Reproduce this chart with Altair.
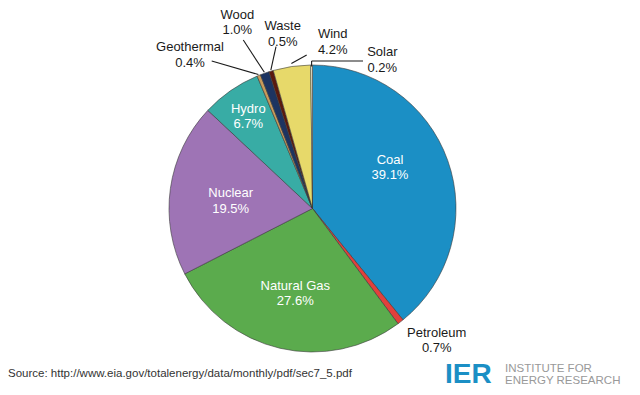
import math
import altair as alt
import pandas as pd

# ---- data ----
sources = ["Coal", "Petroleum", "Natural Gas", "Nuclear", "Hydro",
           "Geothermal", "Wood", "Waste", "Wind", "Solar"]
shares = [39.1, 0.7, 27.6, 19.5, 6.7, 0.4, 1.0, 0.5, 4.2, 0.2]
colors = ["#1b8fc5", "#e2403c", "#5bab4d", "#9e74b5", "#38aca5",
          "#c99b5a", "#1d3461", "#5b1a0e", "#e7d96a", "#f6f1d5"]
source_note = "Source: http://www.eia.gov/totalenergy/data/monthly/pdf/sec7_5.pdf"

# ---- layout (chart pixel space) ----
W, H = 624, 383
CX, CY, R = 304.5, 200.5, 143.5
FONT = "Liberation Sans, Arial, Helvetica, sans-serif"
LINE_H = 15.5

pie_df = pd.DataFrame({"source": sources, "share": shares,
                       "order": list(range(len(sources)))})

# label anchor points (block centres)
label_pos = {
    "Coal": (382, 159.5), "Petroleum": (428.7, 332.3), "Natural Gas": (287.3, 285.7),
    "Nuclear": (222.7, 192.8), "Hydro": (240.3, 108.7), "Geothermal": (182, 47.2),
    "Wood": (229.3, 14.7), "Waste": (274.7, 25.8), "Wind": (324.7, 34.2),
    "Solar": (374.3, 52.2),
}
inside = {"Coal", "Natural Gas", "Nuclear", "Hydro"}
lab_rows = []
for s, v in zip(sources, shares):
    x, y = label_pos[s]
    lab_rows.append({"x": x, "y": y - LINE_H / 2, "txt": f"{s}\n{v:.1f}%",
                     "inside": s in inside})
lab_df = pd.DataFrame(lab_rows)

# leader lines: start on the slice (from data angles), end near label
total = sum(shares)
cum = 0.0
mid = {}
for s, v in zip(sources, shares):
    mid[s] = (cum + v / 2) / total * 2 * math.pi
    cum += v

def on_pie(s, r):
    a = mid[s]
    return CX + r * math.sin(a), CY - r * math.cos(a)

leader_ends = {"Geothermal": (203.7, 53), "Wood": (235.3, 32),
               "Waste": (268, 38.7), "Wind": (298.7, 47)}
rule_rows = []
for s, (ex, ey) in leader_ends.items():
    sx, sy = on_pie(s, R + (3 if s == "Wind" else 1))
    rule_rows.append({"x": sx, "y": sy, "x2": ex, "y2": ey})
# solar bracket
tx, ty = on_pie("Solar", R - 1.5)
rule_rows.append({"x": tx, "y": ty, "x2": tx, "y2": 53})
rule_rows.append({"x": tx, "y": 53, "x2": 355, "y2": 53})
rule_df = pd.DataFrame(rule_rows)

# ---- chart ----
pie = alt.Chart(pie_df).mark_arc(outerRadius=R, stroke="#3a3a3a",
                                 strokeWidth=0.6).encode(
    theta=alt.Theta("share:Q", stack=True),
    order=alt.Order("order:Q"),
    color=alt.Color("source:N", scale=alt.Scale(domain=sources, range=colors),
                    legend=None),
    x=alt.value(CX), y=alt.value(CY),
)

rules = alt.Chart(rule_df).mark_rule(color="#1a1a1a", strokeWidth=1.1).encode(
    x=alt.X("x:Q", scale=None, axis=None), y=alt.Y("y:Q", scale=None, axis=None),
    x2="x2:Q", y2="y2:Q",
)

labels = alt.Chart(lab_df).mark_text(
    font=FONT, fontSize=13, lineBreak="\n", lineHeight=LINE_H,
    align="center", baseline="middle",
).encode(
    x=alt.X("x:Q", scale=None, axis=None),
    y=alt.Y("y:Q", scale=None, axis=None),
    text="txt:N",
    color=alt.condition("datum.inside", alt.value("#ffffff"), alt.value("#1a1a1a")),
)

src = alt.Chart(pd.DataFrame({"t": [source_note]})).mark_text(
    font=FONT, fontSize=11.5, align="left", baseline="alphabetic", color="#333333"
).encode(text="t:N", x=alt.value(0), y=alt.value(368.5))

ier = alt.Chart(pd.DataFrame({"t": ["IER"]})).mark_text(
    font=FONT, fontSize=28, fontWeight="bold", align="left",
    baseline="alphabetic", color="#1b8fc5"
).encode(text="t:N", x=alt.value(437), y=alt.value(375))

ier_name = alt.Chart(pd.DataFrame({"t": ["INSTITUTE FOR\nENERGY RESEARCH"]})).mark_text(
    font=FONT, fontSize=11.5, align="left", baseline="alphabetic", color="#999999",
    lineBreak="\n", lineHeight=11.5,
).encode(text="t:N", x=alt.value(497), y=alt.value(364.2))

chart = alt.layer(pie, rules, labels, src, ier, ier_name).properties(
    width=W, height=H, autosize=alt.AutoSizeParams(type="none"), padding=0,
).configure_view(stroke=None)

chart.save("out.html", embed_options={"renderer": "svg", "actions": False})
